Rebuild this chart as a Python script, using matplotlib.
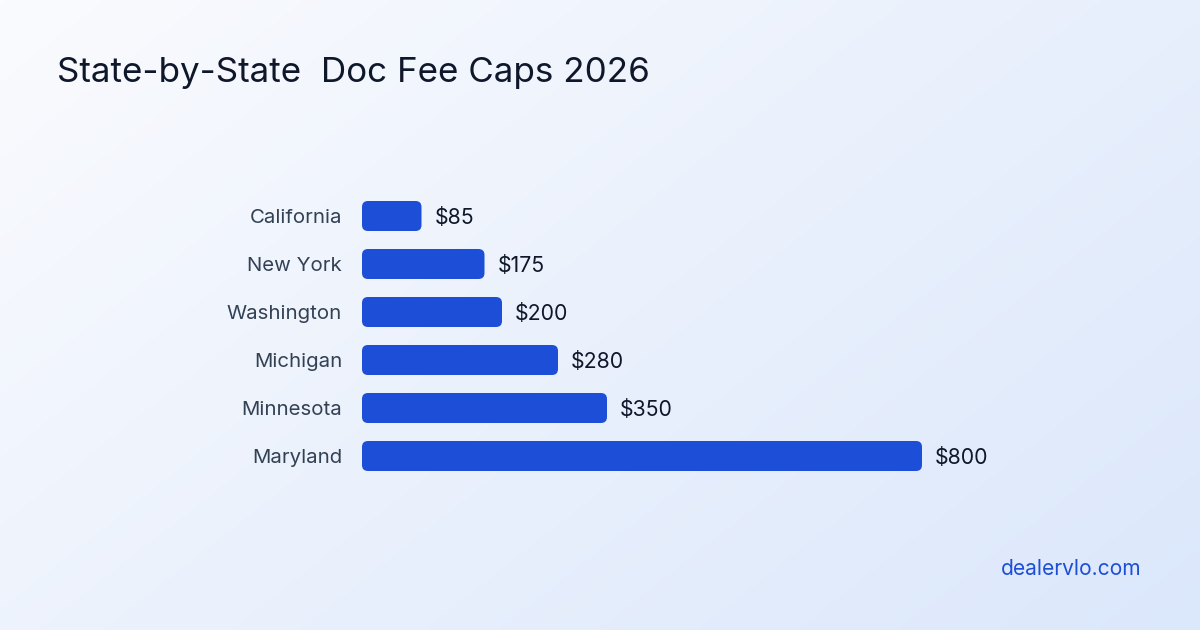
import numpy as np
import matplotlib
matplotlib.use("Agg")
import matplotlib.pyplot as plt
from matplotlib.patches import FancyBboxPatch

# Data
states = ["California", "New York", "Washington", "Michigan", "Minnesota", "Maryland"]
caps = [85, 175, 200, 280, 350, 800]
value_labels = ["$85", "$175", "$200", "$280", "$350", "$800"]

TITLE = "State-by-State  Doc Fee Caps 2026"
SOURCE = "dealervlo.com"

BAR_COLOR = "#1d4ed8"
W, H = 1200, 630

plt.rcParams["font.family"] = ["Inter", "DejaVu Sans"]

fig = plt.figure(figsize=(W / 100, H / 100), dpi=100)

# gradient background
bg = fig.add_axes([0, 0, 1, 1], zorder=0)
gx, gy = np.meshgrid(np.linspace(0, 1, 300), np.linspace(0, 1, 160))
t = np.clip((gx * 0.6 + gy * 0.4), 0, 1)
c0 = np.array([0xfa, 0xfb, 0xfe]) / 255
c1 = np.array([0xdb, 0xe7, 0xfb]) / 255
img = c0[None, None, :] * (1 - t[..., None]) + c1[None, None, :] * t[..., None]
bg.imshow(img, aspect="auto", extent=[0, 1, 0, 1], origin="upper")
bg.axis("off")

# chart axes: x from 362px to 922px covers $0..$800, rows 48px apart
left, right = 362, 922
top, bottom = 192, 480
ax = fig.add_axes([left / W, 1 - bottom / H, (right - left) / W, (bottom - top) / H], zorder=1)
ax.set_xlim(0, 800)
ax.set_ylim(len(states) - 0.5, -0.5)
ax.axis("off")

px_x = 800 / (right - left)          # $ per pixel
px_y = len(states) / (bottom - top)  # rows per pixel
bar_h = 30 * px_y
radius = 6 * px_x
aspect = (6 * px_y) / radius

for i, (state, val, lab) in enumerate(zip(states, caps, value_labels)):
    box = FancyBboxPatch((0, i - bar_h / 2), val, bar_h,
                         boxstyle=f"round,pad=0,rounding_size={radius}",
                         mutation_aspect=aspect,
                         facecolor=BAR_COLOR, edgecolor="none")
    ax.add_patch(box)
    ty = i + 2 * px_y
    ax.text(-20 * px_x, ty, state, ha="right", va="center",
            fontsize=14.7, color="#334155")
    ax.text(val + 13 * px_x, ty, lab, ha="left", va="center",
            fontsize=15.3, color="#0f172a")

fig.text(57 / W, 1 - 82 / H, TITLE, ha="left", va="baseline",
         fontsize=25.2, color="#0f172a")
fig.text(1141 / W, 1 - 575 / H, SOURCE, ha="right", va="baseline",
         fontsize=15.1, color=BAR_COLOR)

fig.savefig("out.png", dpi=100)
